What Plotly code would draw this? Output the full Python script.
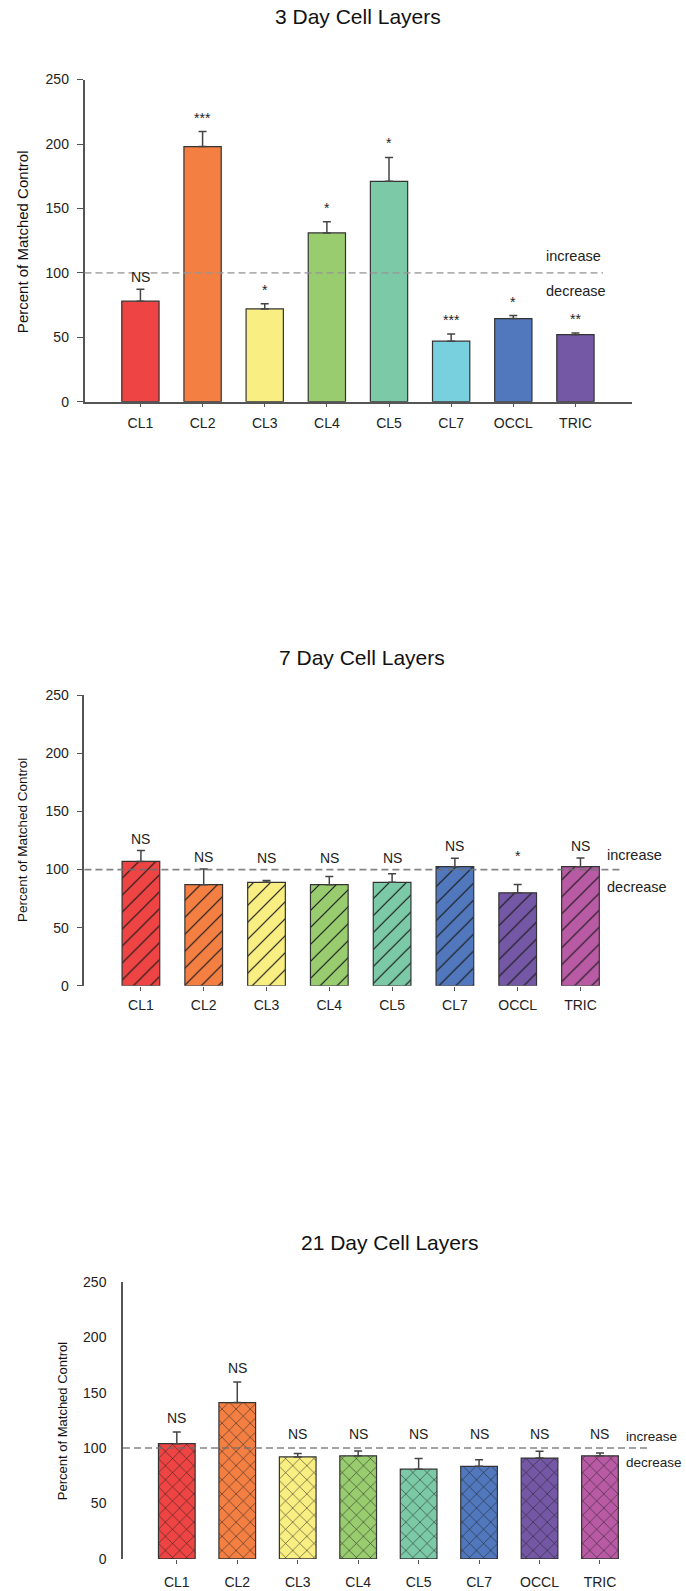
import plotly.graph_objects as go

# ---- data -------------------------------------------------------------
categories = ["CL1", "CL2", "CL3", "CL4", "CL5", "CL7", "OCCL", "TRIC"]

day3_mean = [78, 198, 72, 131, 171, 47, 64.5, 52]
day3_sem = [9.2, 11.7, 4.1, 8.7, 18.6, 5.6, 2.4, 1.3]
day3_sig = ["NS", "***", "*", "*", "*", "***", "*", "**"]

day7_mean = [107, 87, 89, 87, 89, 102.5, 80, 102.5]
day7_sem = [9.4, 13.4, 1.7, 7.1, 7.4, 7.3, 7.1, 7.4]
day7_sig = ["NS", "NS", "NS", "NS", "NS", "NS", "*", "NS"]

day21_mean = [104, 141, 92, 93, 81, 83.5, 91, 93]
day21_sem = [10.4, 18.7, 3.2, 4.4, 9.5, 6.0, 6.2, 2.6]
day21_sig = ["NS", "NS", "NS", "NS", "NS", "NS", "NS", "NS"]

colors_day3 = ["#EE4444", "#F37F43", "#F8EE82", "#98CC6E",
               "#7BC9A6", "#78CFDE", "#5177BC", "#7458A5"]
colors_late = ["#EE4444", "#F37F43", "#F8EE82", "#98CC6E",
               "#7BC9A6", "#5177BC", "#7458A5", "#B95AA5"]

control_level = 100

# ---- page geometry ----------------------------------------------------
W, H = 686, 1591
FONT = "Liberation Sans, Arial, Helvetica, sans-serif"


def px_x(p):
    return p / W


def px_y(p):
    return 1 - p / H


panels = [
    dict(title="3 Day Cell Layers", mean=day3_mean, sem=day3_sem, sig=day3_sig,
         colors=colors_day3, pattern="", pattern_size=12,
         xdom=(84.5, 632), ydom=(72.3, 397.7), xrange=[-0.9, 7.91],
         title_xy=(358, 9), ytitle_xy=(22.5, 236), ytitle_size=15,
         xline=True, yticks=True, dash_end=0.947, dash_color="rgba(150,150,150,0.75)",
         note_x=544, note_up=16.5, note_dn=18.5, note_size=14.5, floor=False,
         bar_w=0.6, xlabel_standoff=4),
    dict(title="7 Day Cell Layers", mean=day7_mean, sem=day7_sem, sig=day7_sig,
         colors=colors_late, pattern="/", pattern_size=12,
         xdom=(84.4, 637), ydom=(694.3, 987.7), xrange=[-0.9, 7.9],
         title_xy=(362, 656), ytitle_xy=(22.5, 841), ytitle_size=13.5,
         xline=False, yticks=True, dash_end=0.975, dash_color="rgba(110,110,110,0.85)",
         note_x=605, note_up=15, note_dn=17, note_size=14.5, floor=True,
         bar_w=0.6, xlabel_standoff=2),
    dict(title="21 Day Cell Layers", mean=day21_mean, sem=day21_sem, sig=day21_sig,
         colors=colors_late, pattern="x", pattern_size=10,
         xdom=(123, 654.4), ydom=(1286.7, 1566.7), xrange=[-0.89, 7.9],
         title_xy=(389, 1247), ytitle_xy=(62.5, 1427), ytitle_size=13,
         xline=False, yticks=False, dash_end=0.992, dash_color="rgba(110,110,110,0.85)",
         note_x=624, note_up=11.5, note_dn=14.5, note_size=13.5, floor=True,
         bar_w=0.607, xlabel_standoff=6),
]

fig = go.Figure()
annotations = []
shapes = []

for k, p in enumerate(panels, start=1):
    xa = "x" if k == 1 else f"x{k}"
    ya = "y" if k == 1 else f"y{k}"

    # one trace per bar so each hatch keeps its own fill colour
    for cat, m, s, col in zip(categories, p["mean"], p["sem"], p["colors"]):
        marker = dict(color=col, line=dict(color="#333333", width=1.2))
        if p["pattern"]:
            marker["pattern"] = dict(shape=p["pattern"], fgcolor="#1a1a1a",
                                     bgcolor=col, fgopacity=1,
                                     size=p["pattern_size"], solidity=0.1,
                                     fillmode="overlay")
        fig.add_trace(go.Bar(
            x=[cat], y=[m], width=p["bar_w"], marker=marker,
            error_y=dict(type="data", array=[s], arrayminus=[0],
                         symmetric=False, color="#444444", thickness=1.5, width=4),
            xaxis=xa, yaxis=ya, showlegend=False, hoverinfo="skip",
        ))

    xkey = "xaxis" if k == 1 else f"xaxis{k}"
    ykey = "yaxis" if k == 1 else f"yaxis{k}"
    fig.update_layout(**{
        xkey: dict(
            domain=[px_x(p["xdom"][0]), px_x(p["xdom"][1])],
            anchor=ya, range=p["xrange"], type="category",
            categoryorder="array", categoryarray=categories,
            showline=p["xline"], linecolor="#555555", linewidth=1.5,
            ticks="outside", ticklen=4, tickwidth=1.2, tickcolor="#555555",
            tickfont=dict(family=FONT, size=14, color="#222222"),
            ticklabelstandoff=p["xlabel_standoff"],
            showgrid=False, zeroline=False, fixedrange=True,
        ),
        ykey: dict(
            domain=[px_y(p["ydom"][1]), px_y(p["ydom"][0])],
            anchor=xa, range=[0, 250], tickvals=[0, 50, 100, 150, 200, 250],
            showline=True, linecolor="#555555", linewidth=1.5,
            ticks="outside" if p["yticks"] else "", ticklen=6, tickwidth=1.2,
            tickcolor="#555555",
            tickfont=dict(family=FONT, size=14, color="#222222"),
            ticklabelstandoff=5 if p["yticks"] else 12,
            showgrid=False, zeroline=False, fixedrange=True,
        ),
    })

    # 100 % reference line
    shapes.append(dict(type="line", xref=f"{xa} domain", yref=ya,
                       x0=0, x1=p["dash_end"], y0=control_level, y1=control_level,
                       line=dict(color=p["dash_color"], width=1.6, dash="7px,4px"),
                       layer="above"))

    # significance markers above each bar
    for cat, m, s, lab in zip(categories, p["mean"], p["sem"], p["sig"]):
        top = m + s
        if p["floor"]:
            top = max(top, control_level)
        shift = 12 if lab == "NS" else 14
        if k == 3:
            shift += 2
        annotations.append(dict(x=cat, y=top, xref=xa, yref=ya, text=lab,
                                showarrow=False, yanchor="middle", yshift=shift,
                                font=dict(family=FONT, size=14, color="#222222")))

    # increase / decrease notes
    for txt, dy in (("increase", p["note_up"]), ("decrease", -p["note_dn"])):
        annotations.append(dict(x=px_x(p["note_x"]), xref="paper", xanchor="left",
                                y=control_level, yref=ya, yanchor="middle", yshift=dy,
                                text=txt, showarrow=False,
                                font=dict(family=FONT, size=p["note_size"],
                                          color="#222222")))

    # panel title
    annotations.append(dict(x=px_x(p["title_xy"][0]), y=px_y(p["title_xy"][1]),
                            xref="paper", yref="paper", xanchor="center",
                            yanchor="middle", text=p["title"], showarrow=False,
                            font=dict(family=FONT, size=21, color="#111111")))

    # y-axis title
    annotations.append(dict(x=px_x(p["ytitle_xy"][0]), y=px_y(p["ytitle_xy"][1]),
                            xref="paper", yref="paper", xanchor="center",
                            yanchor="middle", textangle=-90,
                            text="Percent of Matched Control", showarrow=False,
                            font=dict(family=FONT, size=p["ytitle_size"],
                                      color="#111111")))

fig.update_layout(
    width=W, height=H,
    margin=dict(l=0, r=0, t=0, b=0),
    paper_bgcolor="white", plot_bgcolor="white",
    annotations=annotations, shapes=shapes,
    barmode="overlay",
)

fig.write_html("out.html", config={"displayModeBar": False})
